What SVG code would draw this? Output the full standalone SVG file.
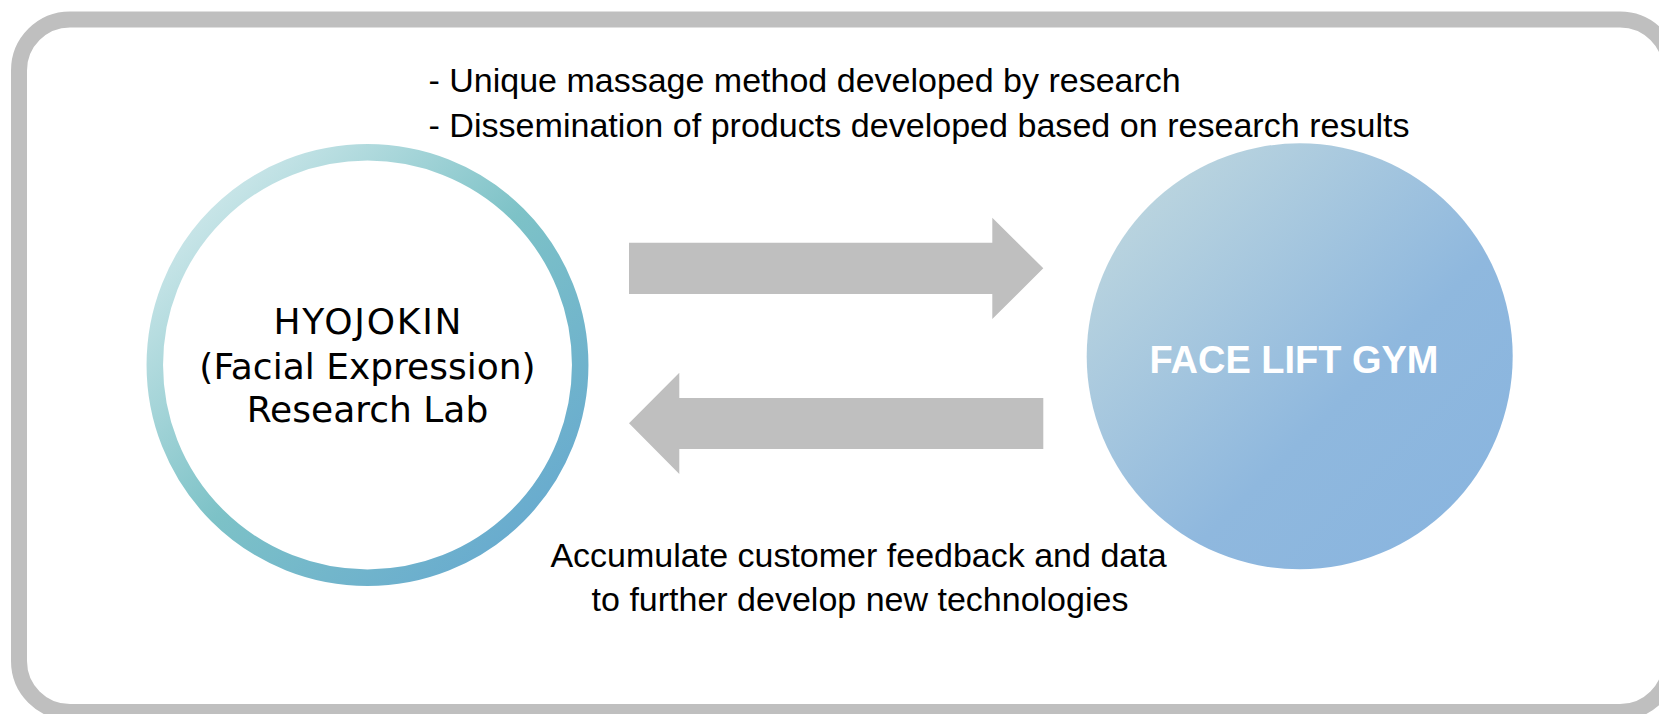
<svg xmlns="http://www.w3.org/2000/svg" width="1659" height="714" viewBox="0 0 1659 714">
  <style>
    .lbl { font-family: "Liberation Sans", Arial, sans-serif; font-size: 34px; fill: #000000; }
    .node-txt { font-family: "DejaVu Sans", "Liberation Sans", sans-serif; font-size: 36px; fill: #000000; text-anchor: middle; }
    .title { font-family: "Liberation Sans", Arial, sans-serif; font-size: 39px; font-weight: bold; fill: #ffffff; text-anchor: middle; }
    .arrow { fill: #bfbfbf; }
  </style>
  <defs>
    <linearGradient id="ringGrad" x1="0" y1="0" x2="1" y2="1">
      <stop offset="0" stop-color="#e2f1f3"/>
      <stop offset="0.5" stop-color="#7dc2c7"/>
      <stop offset="1" stop-color="#62a4d1"/>
    </linearGradient>
    <linearGradient id="gymGrad" x1="0" y1="0" x2="1" y2="1">
      <stop offset="0" stop-color="#c6dcdf"/>
      <stop offset="0.6" stop-color="#8fb8de"/>
      <stop offset="1" stop-color="#88b4df"/>
    </linearGradient>
  </defs>
  <rect x="0" y="0" width="1659" height="714" fill="#ffffff"/>
  <g id="frame">
    <rect x="19" y="19.5" width="1652" height="692.5" rx="51" ry="51" fill="none" stroke="#bfbfbf" stroke-width="16"/>
  </g>
  <g id="connectors">
    <polygon class="arrow" points="629,242.7 992.3,242.7 992.3,217.7 1043.3,268.3 992.3,319 992.3,294 629,294"/>
    <polygon class="arrow" points="629,423.3 679.3,372.7 679.3,398 1043.3,398 1043.3,449 679.3,449 679.3,474"/>
  </g>
  <g id="node-lab">
    <circle cx="367.5" cy="365" r="212.7" fill="#ffffff" stroke="url(#ringGrad)" stroke-width="16.5"/>
    <text class="node-txt" x="367.5" y="334.3" textLength="188" lengthAdjust="spacing">HYOJOKIN</text>
    <text class="node-txt" x="367.5" y="379.3">(Facial Expression)</text>
    <text class="node-txt" x="367.5" y="421.7">Research Lab</text>
  </g>
  <g id="node-gym">
    <circle cx="1299.7" cy="356.3" r="213" fill="url(#gymGrad)"/>
    <text class="title" x="1294" y="372.7" textLength="289" lengthAdjust="spacingAndGlyphs">FACE LIFT GYM</text>
  </g>
  <g id="label-top">
    <text class="lbl" x="428.5" y="91.7">- Unique massage method developed by research</text>
    <text class="lbl" x="428.5" y="136.7" textLength="981" lengthAdjust="spacingAndGlyphs">- Dissemination of products developed based on research results</text>
  </g>
  <g id="label-bottom">
    <text class="lbl" x="858.5" y="566.7" text-anchor="middle">Accumulate customer feedback and data</text>
    <text class="lbl" x="860" y="611" text-anchor="middle">to further develop new technologies</text>
  </g>
</svg>
